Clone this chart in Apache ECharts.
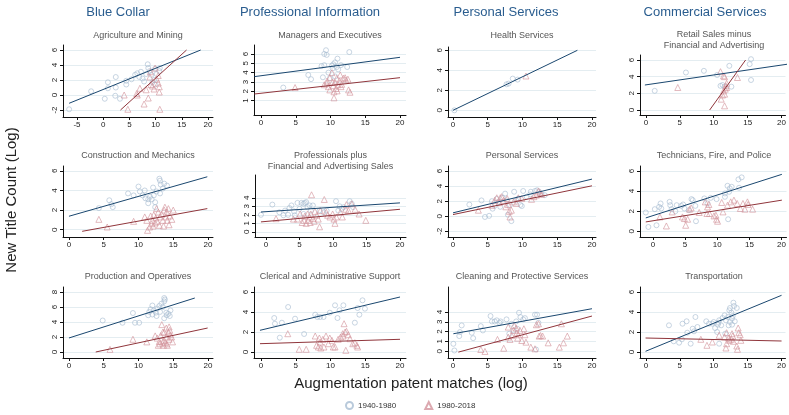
<!DOCTYPE html>
<html><head><meta charset="utf-8">
<script src="https://cdn.jsdelivr.net/npm/echarts@6/dist/echarts.min.js"></script>
<style>html,body{margin:0;padding:0;background:#fff}#chart{width:789px;height:415px}</style>
</head><body><div id="chart"></div>
<script>
// ---- tick labels ----
const xTicksWide = [-5, 0, 5, 10, 15, 20];
const xTicks = [0, 5, 10, 15, 20];
const yTicksNeg = [-2, 0, 2, 4, 6];
const yTicksOne = [1, 2, 3, 4, 5, 6];
const yTicksEven = [0, 2, 4, 6];
const yTicksUnit = [0, 1, 2, 3, 4];
const yTicksEight = [0, 2, 4, 6, 8];

// ---- column headings and panel titles ----
const groupNames = ['Blue Collar', 'Professional Information', 'Personal Services', 'Commercial Services'];
const panelTitles = [
  ['Agriculture and Mining'], ['Managers and Executives'], ['Health Services'], ['Retail Sales minus', 'Financial and Advertising'],
  ['Construction and Mechanics'], ['Professionals plus', 'Financial and Advertising Sales'], ['Personal Services'], ['Technicians, Fire, and Police'],
  ['Production and Operatives'], ['Clerical and Administrative Support'], ['Cleaning and Protective Services'], ['Transportation']
];

// ---- series values: [patent matches, new title count], 1940-1980 and 1980-2018 ----
const agri1940 = [[-6.5,-1.9],[-2.3,0.5],[0.3,-0.5],[0.9,1.7],[0.9,0.9],[2.4,2.4],[2.4,1.0],[2.3,-0.1],[3.2,-0.5],[4.4,1.4],[4.4,1.9],[5.4,2.1],[6.1,2.7],[6.5,2.9],[6.9,2.4],[7.2,3.1],[7.5,2.2],[7.8,1.8],[8.5,4.1],[8.6,3.6],[8.9,3.2],[8.2,2.8],[9.2,2.7],[9.7,2.0],[9.9,1.4],[10.2,2.8],[9.9,3.5],[10.7,3.2],[9.4,1.7],[10.8,3.6]];
const agri1980 = [[4.0,0.0],[4.7,-1.9],[6.4,0.2],[6.5,0.0],[7.0,0.9],[7.8,-1.2],[8.2,0.7],[8.6,-0.4],[8.9,2.4],[9.1,1.4],[9.4,1.2],[9.7,0.8],[9.9,3.6],[10.2,2.1],[10.5,2.6],[10.7,1.1],[10.7,0.4],[10.8,-1.9],[10.5,1.6],[9.0,3.1]];
const agriFit1940 = [[-6.5,-1.1],[18.6,6.0]];
const agriFit1980 = [[3.3,-2.0],[15.9,6.0]];

const mgr1940 = [[3.2,2.4],[6.8,3.75],[7.2,3.3],[8.7,4.7],[9.1,4.8],[9.1,6.0],[9.35,6.4],[9.45,5.9],[8.9,3.5],[9.7,4.0],[10.2,4.75],[10.4,4.9],[10.65,5.1],[11.0,5.5],[10.3,4.45],[10.9,4.6],[11.1,4.35],[11.5,4.8],[12.4,4.6],[12.7,6.2],[9.9,3.4],[10.65,3.6]];
const mgr1980 = [[4.9,2.4],[9.1,2.7],[9.45,2.85],[9.7,2.5],[9.9,3.45],[10.2,4.0],[10.3,3.0],[10.4,2.6],[10.5,1.95],[10.5,1.3],[10.65,2.95],[10.8,2.3],[10.9,3.4],[10.95,2.05],[11.1,2.7],[11.3,3.1],[11.4,3.75],[11.5,2.5],[11.6,2.75],[11.85,3.4],[12.1,3.45],[12.2,3.2],[12.5,3.3],[12.6,2.15],[12.8,1.9],[9.9,2.15],[9.5,3.1]];
const mgrFit1940 = [[-0.96,3.57],[20.0,5.64]];
const mgrFit1980 = [[-0.96,1.71],[20.0,3.46]];

const health1940 = [[0.2,0.0],[7.7,2.6],[8.0,2.67],[8.6,3.17],[9.3,3.07]];
const health1980 = [[10.5,3.43]];
const healthFit1940 = [[0,0],[17.9,6.0]];

const retail1940 = [[1.3,2.3],[5.9,4.5],[8.55,4.7],[10.5,4.2],[12.3,5.3],[11.0,2.9],[11.3,3.0],[11.6,2.8],[12.6,2.8],[15.5,6.1],[15.3,5.5],[15.5,3.6]];
const retail1980 = [[4.7,2.7],[11.0,4.6],[11.45,4.1],[11.6,4.0],[11.9,3.2],[11.8,2.9],[11.45,2.3],[11.3,1.8],[11.1,1.3],[11.6,1.9],[11.7,2.5],[11.9,2.7],[11.6,0.5],[13.5,3.9]];
const retailFit1940 = [[-0.15,3.0],[20.9,5.5]];
const retailFit1980 = [[9.4,0.0],[14.7,6.0]];

const constr1940 = [[4.3,2.2],[5.8,3.0],[6.1,2.6],[6.3,2.3],[8.5,3.7],[9.3,3.5],[10.0,4.4],[10.2,3.9],[10.6,3.5],[10.9,4.0],[11.0,3.2],[11.4,3.1],[11.65,3.35],[11.9,3.1],[12.1,4.3],[12.2,3.5],[12.4,2.8],[12.6,3.9],[13.0,5.2],[13.1,5.0],[13.2,4.6],[13.1,3.7],[13.5,4.2],[13.7,4.7],[14.1,4.5],[12.4,2.3],[11.4,2.7]];
const constr1980 = [[4.3,1.05],[5.5,0.27],[9.3,0.85],[10.9,1.3],[11.2,0.95],[11.3,-0.07],[11.6,0.27],[11.75,1.4],[11.9,0.6],[12.0,0.95],[12.1,0.37],[12.2,1.5],[12.4,0.7],[12.5,1.2],[12.6,2.15],[12.7,0.85],[12.85,1.8],[13.0,0.44],[13.1,1.3],[13.3,1.6],[13.5,0.95],[13.7,2.0],[13.8,2.3],[13.95,1.3],[14.05,1.8],[14.15,0.95],[14.3,2.15],[14.5,1.4],[14.8,1.05],[15.0,2.0],[14.4,0.5],[13.6,0.37]];
const constrFit1940 = [[0,1.37],[19.9,5.4]];
const constrFit1980 = [[1.9,-0.17],[19.9,2.15]];

const prof1940 = [[-0.75,2.0],[0.95,3.2],[2.0,2.3],[2.6,1.95],[2.85,2.5],[3.3,2.0],[3.5,2.8],[3.8,3.1],[4.2,2.4],[4.3,1.95],[4.7,3.4],[5.0,2.7],[5.3,3.4],[5.6,3.3],[5.8,3.4],[6.0,3.5],[6.2,2.9],[6.5,3.1],[6.7,2.5],[7.0,3.1],[5.6,2.1],[9.05,2.5],[10.45,3.6],[10.8,2.5],[11.0,3.0],[11.3,2.7],[11.6,2.9],[12.5,3.6],[12.8,3.3],[13.0,2.9],[8.0,2.5],[8.6,2.3]];
const prof1980 = [[1.5,1.55],[4.7,1.5],[5.1,2.1],[5.4,1.1],[5.7,1.35],[5.8,1.85],[6.0,1.0],[6.2,2.1],[6.3,1.35],[6.5,1.75],[6.6,1.1],[6.7,2.1],[6.8,4.35],[7.0,1.55],[7.2,1.25],[7.3,2.4],[7.6,1.95],[7.8,1.5],[8.0,0.6],[8.1,2.5],[8.7,3.8],[9.0,2.3],[9.2,1.95],[9.55,1.75],[9.95,2.1],[10.15,1.5],[10.3,1.0],[10.5,1.75],[11.1,2.3],[11.4,1.75],[11.9,2.65],[12.3,2.5],[12.8,3.3],[13.3,2.65],[13.9,2.1],[14.9,1.35],[12.0,3.2],[4.1,1.5]];
const profFit1940 = [[-0.75,2.33],[20.0,3.4]];
const profFit1980 = [[-0.75,1.17],[20.0,2.65]];

const pers1940 = [[2.35,1.55],[4.1,2.1],[4.6,-0.1],[5.2,0.05],[5.6,2.0],[5.7,1.0],[6.0,1.4],[6.3,2.3],[6.5,1.9],[6.8,1.25],[7.15,2.45],[7.5,3.0],[7.7,2.1],[7.9,0.2],[8.2,1.5],[8.4,-0.65],[8.8,3.25],[9.1,2.1],[9.4,2.35],[9.7,1.5],[9.9,1.35],[10.1,3.35],[10.6,2.6],[11.2,3.25],[11.8,3.35],[12.1,3.45],[12.4,3.25],[12.75,2.9],[13.2,2.8],[11.1,2.9]];
const pers1980 = [[3.65,0.8],[5.6,1.45],[6.0,2.1],[6.3,2.45],[6.65,1.8],[7.0,2.6],[7.3,2.1],[7.6,1.25],[7.8,2.35],[7.95,1.55],[8.1,0.65],[8.2,-0.1],[8.4,0.8],[8.7,1.9],[9.1,1.7],[9.4,2.45],[9.9,2.35],[11.3,2.25],[11.65,2.6],[12.0,2.8],[12.3,3.35],[12.5,3.15],[12.75,2.9],[6.8,2.45]];
const persFit1940 = [[0,0.45],[20.0,4.93]];
const persFit1980 = [[0,0.22],[20.0,4.04]];

const tech1940 = [[-1.1,1.87],[-0.7,0.43],[0.3,2.2],[0.56,0.6],[0.97,2.43],[1.2,2.77],[1.3,2.27],[2.6,2.93],[2.7,2.6],[2.9,2.2],[3.5,2.0],[4.4,2.53],[4.7,2.67],[4.9,2.27],[5.6,2.1],[6.0,3.2],[6.2,3.1],[6.6,2.53],[6.7,1.0],[8.0,3.27],[8.5,2.77],[9.9,3.2],[11.2,3.43],[11.6,4.53],[11.95,4.27],[12.25,4.43],[11.7,1.2],[13.4,4.33],[13.3,5.17],[13.8,5.37],[11.85,3.93],[11.2,3.77],[9.0,3.33],[3.7,2.6]];
const tech1980 = [[1.1,1.43],[2.1,0.53],[3.0,1.93],[4.6,1.43],[4.9,1.27],[5.1,0.6],[5.4,1.2],[5.7,2.2],[5.95,2.33],[7.2,1.87],[8.15,2.93],[8.4,1.77],[8.5,2.43],[8.7,2.67],[8.8,1.77],[9.5,1.53],[9.8,1.6],[9.9,1.2],[10.05,1.0],[10.7,2.87],[10.9,1.93],[11.6,2.6],[12.1,2.93],[12.6,3.1],[13.1,2.77],[13.6,2.27],[14.0,2.77],[14.3,2.2],[14.8,2.67],[15.5,2.2],[14.7,2.93]];
const techFit1940 = [[-1.1,1.33],[20.05,5.67]];
const techFit1980 = [[-1.1,0.93],[20.05,3.1]];

const prod1940 = [[4.85,4.2],[7.7,3.9],[9.2,5.2],[9.5,3.9],[10.1,3.9],[11.4,4.9],[11.55,5.35],[11.75,5.7],[12.0,6.2],[12.2,5.55],[12.5,5.25],[12.6,4.8],[12.7,5.8],[13.0,6.15],[13.1,5.35],[13.3,6.45],[13.5,6.0],[13.7,7.2],[13.8,7.0],[13.7,6.75],[14.0,5.25],[14.05,4.9],[14.3,5.1],[14.5,4.8],[14.6,5.55],[13.7,4.5],[12.0,5.0]];
const prod1980 = [[5.9,0.35],[9.2,1.7],[11.2,1.35],[12.4,2.15],[12.7,1.85],[12.85,0.9],[13.0,1.4],[13.1,1.1],[13.2,2.2],[13.35,3.65],[13.5,2.65],[13.6,0.9],[13.7,1.55],[13.8,1.25],[14.0,3.2],[14.05,2.0],[14.15,0.9],[14.3,2.65],[14.4,1.7],[14.4,3.35],[14.5,2.9],[14.6,2.3],[14.75,2.0],[14.9,1.35],[14.05,1.1],[13.7,2.65],[13.5,1.35]];
const prodFit1940 = [[0,1.87],[18.1,7.2]];
const prodFit1980 = [[3.85,0.0],[19.95,3.2]];

const cler1940 = [[1.9,3.4],[2.0,2.83],[3.0,2.93],[2.7,1.43],[3.9,4.5],[4.9,3.33],[6.2,1.8],[7.8,3.73],[8.1,3.5],[8.5,3.5],[9.9,3.93],[10.65,4.67],[11.0,3.4],[11.3,4.17],[11.85,4.67],[13.5,2.93],[13.9,4.4],[14.15,3.73],[14.6,5.17],[14.95,4.33],[9.0,3.5]];
const cler1980 = [[3.85,1.83],[5.5,0.27],[6.5,0.27],[7.8,1.6],[8.0,0.67],[8.25,0.5],[8.4,1.4],[8.5,1.0],[8.6,0.4],[8.9,1.27],[9.05,0.5],[9.35,1.6],[9.7,0.83],[9.9,1.4],[10.2,1.17],[10.4,0.5],[10.65,0.5],[11.1,1.27],[11.45,1.5],[11.75,1.83],[11.95,2.83],[12.1,2.0],[12.3,2.07],[12.55,1.73],[12.2,0.17],[12.8,1.33],[13.2,0.83],[13.5,0.93],[13.8,0.67],[13.9,0.5],[11.8,1.6]];
const clerFit1940 = [[-0.15,2.17],[20.0,5.5]];
const clerFit1980 = [[-0.15,0.83],[20.0,1.27]];

const clean1940 = [[0.05,0.75],[0.2,0.07],[0.9,1.54],[1.0,1.95],[1.25,2.63],[2.7,1.88],[2.9,1.33],[4.0,2.56],[4.3,2.12],[5.4,3.59],[5.6,3.04],[6.0,3.04],[6.3,3.15],[6.7,2.9],[6.85,3.04],[7.7,3.25],[8.4,2.8],[9.1,3.04],[9.5,3.93],[9.7,3.49],[10.1,3.25],[10.35,3.38],[9.25,2.29],[8.7,2.12],[11.8,3.73],[12.1,3.73],[12.3,2.9],[11.95,0.17],[8.1,1.78]];
const clean1980 = [[4.0,0.17],[4.6,-0.03],[6.4,1.2],[7.3,0.3],[7.95,1.44],[8.2,1.2],[8.45,1.6],[8.7,2.12],[8.8,2.63],[9.1,2.36],[9.2,1.88],[9.3,1.33],[9.4,1.68],[9.65,2.12],[9.9,1.09],[10.2,2.29],[10.35,1.68],[10.5,0.92],[11.2,0.41],[11.8,0.24],[12.0,2.7],[12.3,2.8],[12.4,1.54],[12.6,1.6],[12.9,1.54],[13.7,0.85],[15.3,0.41],[15.9,0.85],[16.45,1.54],[15.6,2.8],[7.95,2.46]];
const cleanFit1940 = [[0.05,1.78],[20.0,4.34]];
const cleanFit1980 = [[0.77,-0.1],[20.0,3.59]];

const trans1940 = [[3.4,2.67],[4.1,1.07],[4.9,0.93],[5.3,1.27],[5.4,2.83],[6.0,3.07],[6.1,1.93],[6.6,0.83],[6.9,2.33],[7.1,2.07],[7.3,3.5],[7.6,2.5],[8.9,3.07],[9.3,2.83],[9.8,2.83],[10.0,3.0],[10.2,2.4],[10.5,2.0],[10.6,2.73],[10.7,2.93],[10.8,3.17],[11.1,2.67],[11.3,3.4],[11.6,3.67],[11.7,1.83],[11.8,3.17],[12.1,3.5],[12.2,2.67],[12.3,4.17],[12.4,4.4],[12.6,3.93],[12.7,3.33],[12.8,3.6],[12.9,4.93],[13.0,4.6],[13.1,3.07],[13.4,4.4],[10.8,0.83],[12.4,3.0],[12.7,2.73]];
const trans1980 = [[8.1,1.27],[9.0,0.67],[9.8,1.0],[10.8,1.67],[11.6,1.5],[11.8,0.4],[11.9,0.83],[12.2,1.4],[12.3,1.17],[12.6,1.27],[12.7,1.83],[12.8,1.6],[12.9,1.07],[13.4,0.6],[13.5,0.27],[13.6,2.4],[13.7,1.93],[13.9,1.73],[14.0,1.17],[11.9,1.93]];
const transFit1940 = [[-0.05,0.07],[20.0,5.67]];
const transFit1980 = [[-0.05,1.4],[20.0,1.1]];

// ---- panel contents (row by row) ----
const panels = [
  { early: agri1940, late: agri1980, fitEarly: agriFit1940, fitLate: agriFit1980, xt: xTicksWide, yt: yTicksNeg },
  { early: mgr1940, late: mgr1980, fitEarly: mgrFit1940, fitLate: mgrFit1980, xt: xTicks, yt: yTicksOne },
  { early: health1940, late: health1980, fitEarly: healthFit1940, fitLate: null, xt: xTicks, yt: yTicksEven },
  { early: retail1940, late: retail1980, fitEarly: retailFit1940, fitLate: retailFit1980, xt: xTicks, yt: yTicksEven },
  { early: constr1940, late: constr1980, fitEarly: constrFit1940, fitLate: constrFit1980, xt: xTicks, yt: yTicksEven },
  { early: prof1940, late: prof1980, fitEarly: profFit1940, fitLate: profFit1980, xt: xTicks, yt: yTicksUnit },
  { early: pers1940, late: pers1980, fitEarly: persFit1940, fitLate: persFit1980, xt: xTicks, yt: yTicksNeg },
  { early: tech1940, late: tech1980, fitEarly: techFit1940, fitLate: techFit1980, xt: xTicks, yt: yTicksEven },
  { early: prod1940, late: prod1980, fitEarly: prodFit1940, fitLate: prodFit1980, xt: xTicks, yt: yTicksEight },
  { early: cler1940, late: cler1980, fitEarly: clerFit1940, fitLate: clerFit1980, xt: xTicks, yt: yTicksEven },
  { early: clean1940, late: clean1980, fitEarly: cleanFit1940, fitLate: cleanFit1980, xt: xTicks, yt: yTicksUnit },
  { early: trans1940, late: trans1980, fitEarly: transFit1940, fitLate: transFit1980, xt: xTicks, yt: yTicksEven }
];

// ---- layout: plot rectangles (px) and axis extents ----
const layout = [
  { l: 63,  t: 45,  w: 150, h: 72, x: [-7.67, 20.95], y: [-2.93, 6.67], ty: [36] },
  { l: 254, t: 45,  w: 152, h: 70, x: [-1.01, 20.86], y: [-0.54, 6.96], ty: [36] },
  { l: 448, t: 47,  w: 148, h: 70, x: [-0.72, 20.58], y: [-0.67, 6.33], ty: [36] },
  { l: 640, t: 55,  w: 148, h: 60, x: [-0.87, 20.58], y: [-0.6, 6.6],   ty: [35, 46] },
  { l: 63,  t: 166, w: 150, h: 71, x: [-0.86, 20.72], y: [-0.75, 6.5], ty: [156] },
  { l: 255, t: 175, w: 151, h: 62, x: [-1.64, 20.9],  y: [-0.6, 6.67], ty: [156, 167] },
  { l: 448, t: 166, w: 148, h: 71, x: [-0.72, 20.58], y: [-2.76, 6.67], ty: [156] },
  { l: 640, t: 166, w: 148, h: 71, x: [-2.0, 20.77],  y: [-0.57, 6.5], ty: [156] },
  { l: 63,  t: 287, w: 150, h: 71, x: [-0.86, 20.72], y: [-0.8, 8.67], ty: [277] },
  { l: 254, t: 287, w: 152, h: 71, x: [-1.01, 20.86], y: [-0.6, 6.5],  ty: [277] },
  { l: 448, t: 287, w: 148, h: 71, x: [-0.72, 20.58], y: [-0.7, 6.56], ty: [277] },
  { l: 640, t: 287, w: 148, h: 71, x: [-0.87, 20.58], y: [-0.6, 6.5],  ty: [277] }
];
const groupX = [118, 310, 506, 705];

const FONT = '"Liberation Sans", Arial, sans-serif';
const NAVY = '#1a476f', MAROON = '#90353b';
const CIRCLE = '#a8bdd2', TRI = '#d3949c';

const grids = [], xAxes = [], yAxes = [], series = [], graphics = [];

panels.forEach((p, i) => {
  const L = layout[i];
  grids.push({ left: L.l, top: L.t, width: L.w, height: L.h, containLabel: false });
  xAxes.push({
    type: 'value', gridIndex: i, min: L.x[0], max: L.x[1],
    axisLine: { onZero: false, lineStyle: { color: '#111', width: 1 } },
    axisTick: { length: 3, customValues: p.xt, lineStyle: { color: '#111' } },
    axisLabel: { customValues: p.xt, fontSize: 8, color: '#222', margin: 4, fontFamily: FONT },
    splitLine: { show: false }
  });
  yAxes.push({
    type: 'value', gridIndex: i, min: L.y[0], max: L.y[1],
    axisLine: { show: true, onZero: false, lineStyle: { color: '#111', width: 1 } },
    axisTick: { show: true, length: 3, customValues: p.yt, lineStyle: { color: '#111' } },
    axisLabel: { customValues: p.yt, fontSize: 8, color: '#222', margin: 4, rotate: 90, fontFamily: FONT },
    splitLine: { show: true, lineStyle: { color: '#e4edf1', width: 1 } }
  });
  series.push({
    name: '1940-1980', type: 'scatter', xAxisIndex: i, yAxisIndex: i, data: p.early,
    symbol: 'circle', symbolSize: 5, silent: true,
    itemStyle: { color: 'rgba(255,255,255,0)', borderColor: CIRCLE, borderWidth: 0.8 }
  });
  series.push({
    name: '1980-2018', type: 'scatter', xAxisIndex: i, yAxisIndex: i, data: p.late,
    symbol: 'triangle', symbolSize: 6, silent: true,
    itemStyle: { color: 'rgba(255,255,255,0)', borderColor: TRI, borderWidth: 0.8 }
  });
  [[p.fitEarly, NAVY], [p.fitLate, MAROON]].forEach(([fit, col]) => {
    if (!fit) return;
    series.push({
      name: 'fit', type: 'line', xAxisIndex: i, yAxisIndex: i, data: fit,
      symbol: 'none', silent: true, z: 3, lineStyle: { color: col, width: 1 }
    });
  });
  panelTitles[i].forEach((txt, k) => {
    graphics.push({
      type: 'text', x: L.l + L.w / 2, y: L.ty[k],
      style: { text: txt, font: '9px ' + FONT, fill: '#555', align: 'center', verticalAlign: 'middle' }
    });
  });
});

groupNames.forEach((g, k) => {
  graphics.push({
    type: 'text', x: groupX[k], y: 12,
    style: { text: g, font: '13px ' + FONT, fill: '#2a5d8f', align: 'center', verticalAlign: 'middle' }
  });
});
graphics.push({
  type: 'text', x: 12, y: 200, rotation: Math.PI / 2,
  style: { text: 'New Title Count (Log)', font: '15px ' + FONT, fill: '#222', align: 'center', verticalAlign: 'middle' }
});
graphics.push({
  type: 'text', x: 411, y: 384,
  style: { text: 'Augmentation patent matches (log)', font: '15px ' + FONT, fill: '#222', align: 'center', verticalAlign: 'middle' }
});

const chart = echarts.init(document.getElementById('chart'), null, { renderer: 'canvas' });
chart.setOption({
  animation: false,
  backgroundColor: '#fff',
  grid: grids, xAxis: xAxes, yAxis: yAxes, series: series, graphic: graphics,
  legend: {
    data: ['1940-1980', '1980-2018'], left: 340, top: 396, itemGap: 28,
    itemWidth: 7, itemHeight: 7, selectedMode: false,
    textStyle: { fontSize: 8, color: '#333', fontFamily: FONT }
  }
});
</script></body></html>
